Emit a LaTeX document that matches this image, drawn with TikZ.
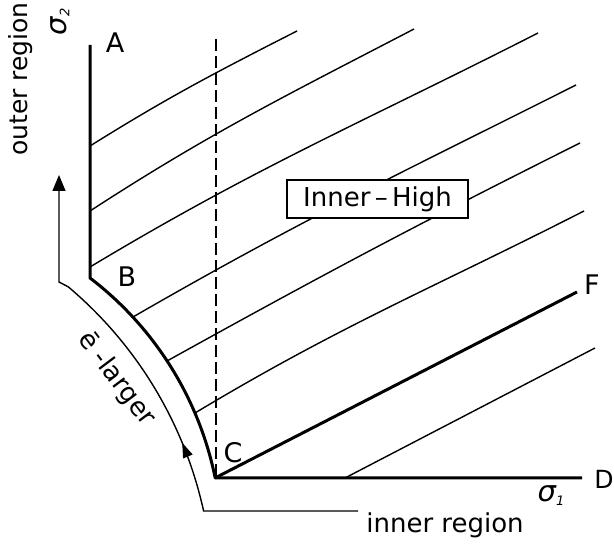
\documentclass[tikz,border=0pt]{standalone}
\usepackage{fontspec}
\setmainfont{DejaVu Sans}
\usetikzlibrary{arrows.meta,decorations.markings}
\begin{document}
\begin{tikzpicture}[x=1pt,y=1pt,
  thickln/.style={line width=3pt, line join=round},
  thinln/.style={line width=1.4pt},
  lbl/.style={font=\fontsize{27}{29}\selectfont, inner sep=0pt},
  txt/.style={font=\fontsize{26}{28}\selectfont, inner sep=0pt},
  sig/.style={font=\fontsize{29}{31}\selectfont\itshape, inner sep=0pt},
]
\useasboundingbox (0,0) rectangle (614,546);
% key points
\coordinate (Atop) at (90,501);
\coordinate (B) at (90,268);
\coordinate (C) at (215,68);
\coordinate (Dend) at (582,68);
\coordinate (Fend) at (577,254);
\coordinate (dtop) at (216,507);
\coordinate (dbot) at (216,68);
% hatch lines
\coordinate (h1s) at (90,400);  \coordinate (h1e) at (297,515);
\coordinate (h2s) at (90,335);  \coordinate (h2e) at (414,517);
\coordinate (h3s) at (90,279);  \coordinate (h3e) at (538,513);
\coordinate (h4s) at (133,229); \coordinate (h4e) at (576,461);
\coordinate (h5s) at (167,185); \coordinate (h5e) at (580,403);
\coordinate (h6s) at (195,133); \coordinate (h6e) at (584,335);
\coordinate (h7s) at (345,68);  \coordinate (h7e) at (595,198);
\draw[thinln] (h1s) to[out=32,in=207] (h1e);
\draw[thinln] (h2s) to[out=33,in=207.5] (h2e);
\draw[thinln] (h3s) to[out=31,in=207] (h3e);
\draw[thinln] (h4s) to[out=30,in=206.7] (h4e);
\draw[thinln] (h5s) to[out=29,in=206.6] (h5e);
\draw[thinln] (h6s) to[out=31,in=207] (h6e);
\draw[thinln] (h7s) -- (h7e);
% dashed line
\draw[thinln, dash pattern=on 12pt off 5pt] (dtop) -- (dbot);
% boundary
\draw[thickln] (Atop) -- (B) arc[start angle=52.6, end angle=11.5, radius=336pt] -- (Dend);
\draw[thickln] (C) -- (Fend);
% outer arrow path
\coordinate (o1) at (358,35);
\coordinate (o2) at (203.6,35);
\coordinate (o3) at (59,264);
\coordinate (o4) at (59,371);
\draw[thinln, -{Triangle[length=16pt,width=13pt]},
  postaction={decorate},
  decoration={markings, mark=at position 0.42 with {\arrow{Triangle[length=15pt,width=10pt]}}}]
  (o1) -- (o2) arc[start angle=12.36, end angle=49.9, radius=407pt] -- (o3) -- (o4);
% box
\node[draw, fill=white, line width=1.2pt, minimum width=181pt, minimum height=38pt, txt] (ih) at (377.5,347) {Inner\,–\,High};
% labels
\node[lbl] (lA) at (115,503) {A};
\node[lbl] (lB) at (127,269) {B};
\node[lbl] (lC) at (233,93) {C};
\node[lbl, font=\fontsize{25}{27}\selectfont] (lD) at (604,67) {D};
\node[lbl] (lF) at (592,261) {F};
\node[txt, font=\fontsize{25}{27}\selectfont, rotate=90] (outer) at (21,467) {outer region};
\node[txt, anchor=base] (inner) at (445,13) {inner region};
\node[txt, rotate=-53] (elarger) at (116,167) {ē -larger};
\node[sig, rotate=90] (s2) at (60,524) {σ\raisebox{-3pt}{\fontsize{13}{13}\selectfont 2}};
\node[sig] (s1) at (551,50) {σ\raisebox{-4pt}{\fontsize{13}{13}\selectfont 1}};
\end{tikzpicture}
\end{document}
